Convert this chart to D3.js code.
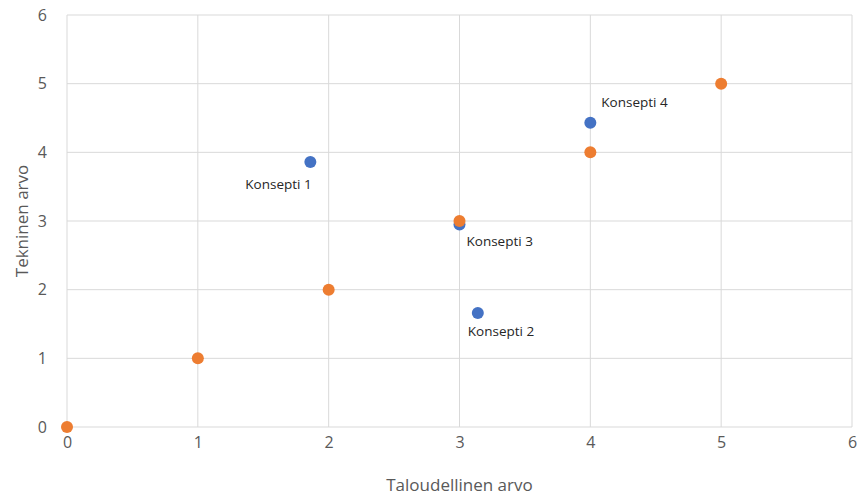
<!DOCTYPE html>
<html>
<head>
<meta charset="utf-8">
<script src="https://cdn.jsdelivr.net/npm/d3@7"></script>
<style>
  body { margin: 0; background: #fff; }
  text { font-family: "Open Sans", "Noto Sans", sans-serif; }
</style>
</head>
<body>
<svg id="chart" width="859" height="497"></svg>
<script>
// Konseptit (blue series)
const conceptNames = ['Konsepti 1', 'Konsepti 2', 'Konsepti 3', 'Konsepti 4'];
const conceptX = [1.86, 3.14, 3.0, 4.0];
const conceptY = [3.86, 1.66, 2.95, 4.43];

// Reference diagonal (orange series)
const refX = [0, 1, 2, 3, 4, 5];
const refY = [0, 1, 2, 3, 4, 5];

const tickValues = [0, 1, 2, 3, 4, 5, 6];

// label placement relative to the point, in px
const labelOffsets = [[-65, 27], [-10, 23], [7, 22], [11, -16]];

const margin = { top: 15, right: 7, bottom: 70, left: 67 };
const width = 859 - margin.left - margin.right;
const height = 497 - margin.top - margin.bottom;

const svg = d3.select('#chart');
const g = svg.append('g').attr('transform', `translate(${margin.left},${margin.top})`);

const x = d3.scaleLinear().domain([0, 6]).range([0, width]);
const y = d3.scaleLinear().domain([0, 6]).range([height, 0]);

// gridlines
g.selectAll('line.vgrid')
  .data(tickValues)
  .join('line')
  .attr('class', 'vgrid')
  .attr('x1', (d) => x(d)).attr('x2', (d) => x(d))
  .attr('y1', 0).attr('y2', height)
  .attr('stroke', '#d9d9d9').attr('stroke-width', 1);

g.selectAll('line.hgrid')
  .data(tickValues)
  .join('line')
  .attr('class', 'hgrid')
  .attr('x1', 0).attr('x2', width)
  .attr('y1', (d) => y(d)).attr('y2', (d) => y(d))
  .attr('stroke', '#d9d9d9').attr('stroke-width', 1);

// axes (labels only)
const fmt = d3.format('d');
const xAxis = g.append('g')
  .attr('transform', `translate(0,${height})`)
  .call(d3.axisBottom(x).tickValues(tickValues).tickFormat(fmt).tickSize(0).tickPadding(10));
const yAxis = g.append('g')
  .call(d3.axisLeft(y).tickValues(tickValues).tickFormat(fmt).tickSize(0).tickPadding(20));
[xAxis, yAxis].forEach((a) => {
  a.select('.domain').remove();
  a.selectAll('text')
    .attr('fill', '#595959')
    .style('font-size', '16px')
    .style('font-family', '"Open Sans", "Noto Sans", sans-serif');
});

// axis titles
svg.append('text')
  .attr('x', margin.left + width / 2)
  .attr('y', 491)
  .attr('text-anchor', 'middle')
  .attr('fill', '#595959')
  .style('font-size', '17px')
  .text('Taloudellinen arvo');

svg.append('text')
  .attr('transform', `translate(28,${margin.top + height / 2}) rotate(-90)`)
  .attr('text-anchor', 'middle')
  .attr('fill', '#595959')
  .style('font-size', '17px')
  .text('Tekninen arvo');

// blue points
const concepts = conceptNames.map((n, i) => ({ name: n, x: conceptX[i], y: conceptY[i] }));
g.selectAll('circle.concept')
  .data(concepts)
  .join('circle')
  .attr('class', 'concept')
  .attr('cx', (d) => x(d.x))
  .attr('cy', (d) => y(d.y))
  .attr('r', 6)
  .attr('fill', '#4472c4');

// orange points, drawn on top
g.selectAll('circle.ref')
  .data(refX.map((v, i) => ({ x: v, y: refY[i] })))
  .join('circle')
  .attr('class', 'ref')
  .attr('cx', (d) => x(d.x))
  .attr('cy', (d) => y(d.y))
  .attr('r', 6)
  .attr('fill', '#ed7d31');

// data labels
g.selectAll('text.lbl')
  .data(concepts)
  .join('text')
  .attr('class', 'lbl')
  .attr('x', (d, i) => x(d.x) + labelOffsets[i][0])
  .attr('y', (d, i) => y(d.y) + labelOffsets[i][1])
  .attr('fill', '#262626')
  .style('font-size', '13.5px')
  .text((d) => d.name);
</script>
</body>
</html>
